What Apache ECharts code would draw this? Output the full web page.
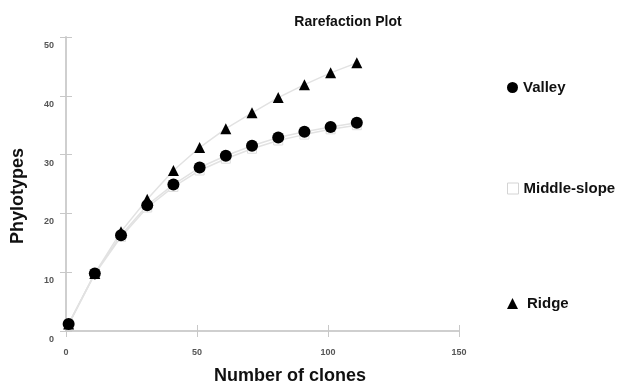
<!DOCTYPE html>
<html>
<head>
<meta charset="utf-8">
<script src="https://cdn.jsdelivr.net/npm/echarts@6/dist/echarts.min.js"></script>
<style>
  html, body { margin: 0; padding: 0; background: #fff; }
  #chart { width: 617px; height: 384px; }
</style>
</head>
<body>
<div id="chart"></div>
<script>
// rarefaction data
let clones = [1, 11, 21, 31, 41, 51, 61, 71, 81, 91, 101, 111];
let valley = [1.2, 9.8, 16.3, 21.4, 24.9, 27.8, 29.8, 31.5, 32.9, 33.9, 34.7, 35.4];
let middleSlope = [1.1, 9.7, 16.0, 21.0, 24.5, 27.3, 29.3, 31.0, 32.4, 33.4, 34.3, 35.0];
let ridge = [1.2, 9.8, 16.9, 22.4, 27.3, 31.2, 34.4, 37.1, 39.7, 41.9, 43.9, 45.6];
let seriesNames = ['Valley', 'Middle-slope', 'Ridge'];

const font = 'Liberation Sans, Arial, sans-serif';
let chart = echarts.init(document.getElementById('chart'));

function pairs(ys) {
    return clones.map((x, i) => [x, ys[i]]);
}

const axisLine = { lineStyle: { color: '#cfcfcf', width: 2 } };
const axisTick = { lineStyle: { color: '#c8c8c8', width: 1 }, length: 6 };
const axisLabel = { color: '#555', fontSize: 9, fontWeight: 'bold', fontFamily: font };
const bold = { fontFamily: font, fontWeight: 'bold', fill: '#111' };

function legendAt(name, top, icon, itemStyle, gap) {
    return {
        data: [{ name: name, icon: icon, itemStyle: itemStyle }],
        left: 502, top: top,
        itemWidth: 11, itemHeight: 11, itemGap: 4,
        textStyle: { fontFamily: font, fontWeight: 'bold', fontSize: 15, color: '#111', padding: [0, 0, 0, gap] },
        selectedMode: false
    };
}

let option = {
    animation: false,
    title: {
        text: 'Rarefaction Plot',
        left: 343, top: 10, textAlign: 'center',
        textStyle: { fontFamily: font, fontWeight: 'bold', fontSize: 14, color: '#111' }
    },
    legend: [
        legendAt('Valley', 75, 'circle', { color: '#000' }, 0),
        legendAt('Middle-slope', 176, 'rect', { color: '#fff', borderColor: '#d4d4d4', borderWidth: 1 }, 0),
        legendAt('Ridge', 291, 'triangle', { color: '#000' }, 4)
    ],
    // axis titles sit off the grid centre in the reference, so draw them as text
    graphic: [
        {
            type: 'text', x: 290, y: 376,
            style: Object.assign({ text: 'Number of clones', fontSize: 18, align: 'center', verticalAlign: 'middle' }, bold)
        },
        {
            type: 'text', x: 18, y: 196, rotation: Math.PI / 2,
            style: Object.assign({ text: 'Phylotypes', fontSize: 18, align: 'center', verticalAlign: 'middle' }, bold)
        }
    ],
    grid: { left: 66, right: 158, top: 37, bottom: 53, outerBoundsMode: 'none' },
    xAxis: [{
        type: 'value', min: 0, max: 150, interval: 50,
        axisLine: axisLine, axisTick: axisTick,
        axisLabel: Object.assign({ margin: 17 }, axisLabel),
        splitLine: { show: false }
    }, {
        type: 'value', min: 0, max: 150, interval: 50, position: 'bottom',
        axisLine: { show: false }, axisLabel: { show: false },
        axisTick: Object.assign({ inside: true }, axisTick),
        splitLine: { show: false }
    }],
    yAxis: [{
        type: 'value', min: 0, max: 50, interval: 10,
        axisLine: axisLine, axisTick: axisTick,
        axisLabel: Object.assign({ margin: 12, verticalAlign: 'top', padding: [4, 0, 0, 0] }, axisLabel),
        splitLine: { show: false }
    }, {
        type: 'value', min: 0, max: 50, interval: 10, position: 'left',
        axisLine: { show: false }, axisLabel: { show: false },
        axisTick: Object.assign({ inside: true }, axisTick),
        splitLine: { show: false }
    }],
    series: [
        {
            name: seriesNames[1], type: 'line', data: pairs(middleSlope),
            symbol: 'rect', symbolSize: 9,
            itemStyle: { color: '#fff', borderColor: '#ddd', borderWidth: 1 },
            lineStyle: { color: '#e2e2e2', width: 1.5 }
        },
        {
            name: seriesNames[2], type: 'line', data: pairs(ridge),
            symbol: 'triangle', symbolSize: 11,
            itemStyle: { color: '#000', borderWidth: 0 },
            lineStyle: { color: '#e2e2e2', width: 1.5 }
        },
        {
            name: seriesNames[0], type: 'line', data: pairs(valley),
            symbol: 'circle', symbolSize: 12,
            itemStyle: { color: '#000', borderWidth: 0 },
            lineStyle: { color: '#e2e2e2', width: 1.5 }
        }
    ]
};
chart.setOption(option);
</script>
</body>
</html>
